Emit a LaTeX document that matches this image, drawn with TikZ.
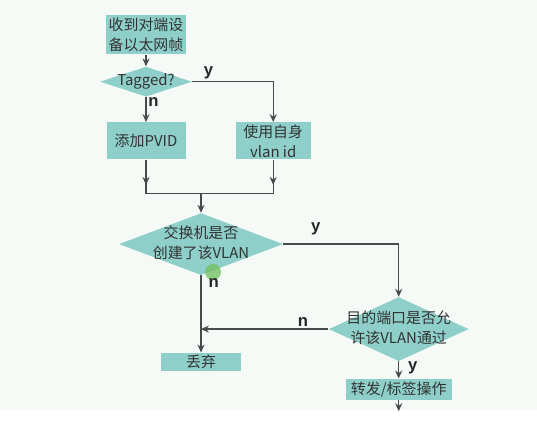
\documentclass[tikz,border=0pt]{standalone}
\usepackage{fontspec}
\setmainfont{Noto Sans CJK SC}
\newfontfamily\ynfont{Liberation Sans}
\usepackage{tikz}
\usetikzlibrary{positioning,arrows.meta,shapes.geometric,decorations.markings}
\definecolor{boxteal}{HTML}{8ECFC9}
\definecolor{linegrey}{HTML}{4A4A4A}
\definecolor{txtgrey}{HTML}{333333}
\definecolor{bgmint}{HTML}{F5FAF7}
\definecolor{cursorgreen}{HTML}{74C164}
\newcommand{\dtext}[1]{\makebox[0pt]{\begin{tabular}{@{}c@{}}#1\end{tabular}}}

\begin{document}
\begin{tikzpicture}[>={Stealth[length=4.5pt,width=4pt]},
    box/.style={rectangle, fill=boxteal, text=txtgrey, inner sep=1pt, align=center, font=\fontsize{8.5}{11.4}\selectfont},
    dia/.style={diamond, fill=boxteal, text=txtgrey, inner sep=0pt, font=\fontsize{8.5}{11.4}\selectfont},
    yn/.style={font=\ynfont\bfseries\fontsize{9.5}{10}\selectfont, text=black!85, inner sep=1pt},
    conn/.style={draw=linegrey, line width=0.7pt},
    midtip/.style={postaction={decorate}, decoration={markings, mark=at position #1 with {\arrow{>}}}}]

\useasboundingbox (0,0) rectangle (10.74,-8.44);
\fill[bgmint] (0,0) rectangle (10.74,-8.2);

\node[box, minimum width=1.6cm, minimum height=0.78cm] (rcv) at (2.92,-0.70) {收到对端设\\备以太网帧};
\node[dia, minimum width=1.84cm, minimum height=0.6cm, below=0.23cm of rcv] (tag) {\dtext{Tagged?}};
\node[box, minimum width=1.58cm, minimum height=0.74cm, below=0.5cm of tag] (pvid) {添加PVID};
\node[box, minimum width=1.5cm, minimum height=0.74cm, right=0.99cm of pvid] (own) {使用自身\\vlan id};
\node[dia, minimum width=3.28cm, minimum height=1.24cm, below=1.06cm of pvid, xshift=1.1cm] (sw) {\dtext{交换机是否\\创建了该VLAN}};
\node[dia, minimum width=2.8cm, minimum height=1.28cm, right=0.9cm of sw, yshift=-1.7cm] (dst) {\dtext{目的端口是否允\\许该VLAN通过}};
\node[box, minimum width=1.6cm, minimum height=0.36cm, below=1.54cm of sw] (drop) {丢弃};
\node[box, minimum width=2.12cm, minimum height=0.42cm, below=0.34cm of dst] (fwd) {转发/标签操作};

% cursor mark
\fill[cursorgreen, opacity=0.8] (4.26,-5.44) circle (0.16);

\draw[conn, ->] (rcv) -- (tag);
\draw[conn, ->] (tag.east) -| node[yn, pos=0.1, above] {y} (own.north);
\draw[conn, ->] (tag) -- node[yn, pos=0.2, right] {n} (pvid);

\coordinate (jl) at ([yshift=-0.68cm]pvid.south);
\coordinate (jr) at (own.south |- jl);
\coordinate (jm) at (sw.north |- jl);
\draw[conn, midtip=0.74] (pvid) -- (jl);
\draw[conn, midtip=0.74] (own) -- (jr);
\draw[conn] (jl) -- (jr);
\draw[conn, ->] (jm) -- (sw);

\draw[conn, ->] (sw.east) -| node[yn, pos=0.14, above=4pt] {y} (dst.north);
\draw[conn, ->] (sw) -- node[yn, pos=0.1, right=3pt] {n} (drop);
\draw[conn, ->] (dst.west) -- node[yn, pos=0.2, above] {n} (dst.west -| sw.south);
\draw[conn, ->] (dst) -- node[yn, pos=0.4, right=4pt] {y} (fwd);

\coordinate (out) at ([yshift=-0.22cm]fwd.south);
\draw[conn, ->] (fwd) -- (out);

\end{tikzpicture}
\end{document}
